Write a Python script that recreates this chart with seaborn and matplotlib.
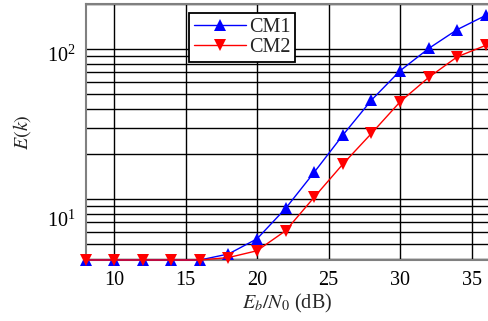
"""
E(k) versus Eb/N0 for CM1 and CM2 channel models
"""

import numpy as np
import pandas as pd
import matplotlib
matplotlib.use("Agg")
import matplotlib.pyplot as plt
from matplotlib.transforms import ScaledTranslation
from matplotlib.ticker import LogLocator, NullLocator, NullFormatter
import seaborn as sns

ebn0 = [8, 10, 12, 14, 16, 18, 20, 22, 24, 26, 28, 30, 32, 34, 36]
cm1 = [3.92, 3.92, 3.92, 3.92, 3.92, 4.30, 5.43, 8.67, 15.1, 26.7, 45.7, 71.7, 101, 135, 168]
cm2 = [3.92, 3.92, 3.92, 3.92, 3.92, 4.07, 4.52, 6.15, 10.3, 17.1, 27.4, 44.5, 64.7, 88.9, 106]
series_names = ["CM1", "CM2"]

df = pd.DataFrame({
    "ebn0": ebn0 * 2,
    "E": cm1 + cm2,
    "model": [series_names[0]] * len(ebn0) + [series_names[1]] * len(ebn0),
})

sns.set_theme(style="white")
plt.rcParams["font.family"] = ["Liberation Serif", "DejaVu Serif"]
plt.rcParams["mathtext.fontset"] = "stix"

fs = 14.5

fig = plt.figure(figsize=(4.88, 3.21), dpi=100)
ax = fig.add_axes([85.5 / 488, 61 / 321, (488 - 85.5) / 488, 256 / 321])

sns.lineplot(data=df, x="ebn0", y="E", hue="model", style="model",
             palette={"CM1": "#0000ff", "CM2": "#ff0000"},
             markers={"CM1": "^", "CM2": "v"}, dashes=False,
             markersize=8, markeredgewidth=0, linewidth=1,
             ax=ax, clip_on=False, zorder=5)

ax.set_yscale("log")
ax.set_xlim(8, 36.15)
ax.set_ylim(3.92, 200)
ax.set_xticks([10, 15, 20, 25, 30, 35])
ax.xaxis.set_minor_locator(NullLocator())
ax.yaxis.set_major_locator(LogLocator(base=10, subs=(1.0,)))
ax.yaxis.set_minor_locator(LogLocator(base=10, subs=np.arange(2, 10)))
ax.yaxis.set_minor_formatter(NullFormatter())

# grid
ax.grid(which="major", axis="both", color="black", linewidth=1)
ax.grid(which="minor", axis="y", color="black", linewidth=1)
ax.tick_params(which="both", length=0, labelsize=fs, colors="black")
ax.tick_params(axis="x", pad=8)
ax.tick_params(axis="y", pad=7)

for s in ax.spines.values():
    s.set_color("#808080")
    s.set_linewidth(1.5)
ax.spines["right"].set_visible(False)

ax.set_xlabel("$E_b/N_0$ (dB)", fontsize=fs, labelpad=1)
ax.set_ylabel("$E(k)$", fontsize=fs, labelpad=10)

# shift tick labels down a bit like in the original figure
fig.canvas.draw()
for lab in ax.get_yticklabels():
    txt = lab.get_text()
    if txt.endswith("^{1}}$") or txt.endswith("^{1}$"):
        off = -0.20
    else:
        off = -0.05
    lab.set_transform(lab.get_transform() + ScaledTranslation(0, off, fig.dpi_scale_trans))

handles, labels = ax.get_legend_handles_labels()
leg = ax.legend(handles, labels, loc="upper left", bbox_to_anchor=(0.256, 0.965),
                borderaxespad=0, fontsize=fs, frameon=True, fancybox=False,
                framealpha=1, edgecolor="black", handlelength=2.6,
                handletextpad=0.15, borderpad=0.25, labelspacing=0.05)
leg.get_frame().set_linewidth(1.3)
leg.set_zorder(10)

fig.savefig("out.png", dpi=100)
